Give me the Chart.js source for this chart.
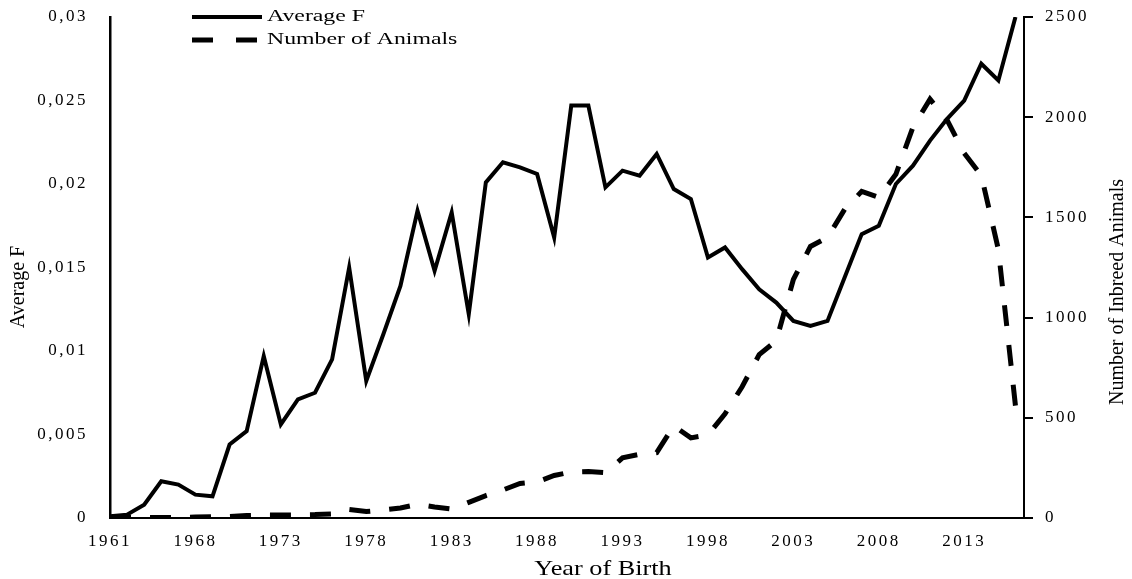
<!DOCTYPE html>
<html>
<head>
<meta charset="utf-8">
<script src="https://cdn.jsdelivr.net/npm/chart.js@4.4.1/dist/chart.umd.min.js"></script>
<style>
  html, body { margin: 0; padding: 0; background: #ffffff; }
  canvas { display: block; }
</style>
</head>
<body>
<canvas id="chart" width="1132" height="579"></canvas>
<script>
// Birth-year categories (one entry per plotted point)
const years = [
  1961, 1963, 1964, 1965, 1966,
  1968, 1969, 1970, 1971, 1972, 1973, 1974, 1975, 1976, 1977,
  1978, 1979, 1980, 1981, 1982, 1983, 1984, 1985, 1986, 1987,
  1988, 1989, 1990, 1991, 1992, 1993, 1994, 1995, 1996, 1997,
  1998, 1999, 2000, 2001, 2002, 2003, 2004, 2005, 2006, 2007,
  2008, 2009, 2010, 2011, 2012, 2013, 2014, 2015, 2016
];

// Average inbreeding coefficient per birth year (left axis)
const averageF = [
  0.0001, 0.0002, 0.0008, 0.0022, 0.0020,
  0.0014, 0.0013, 0.0044, 0.0052, 0.0097, 0.0056, 0.0071, 0.0075, 0.0095, 0.0150,
  0.0082, 0.0110, 0.0139, 0.0184, 0.0148, 0.0183, 0.0122, 0.0201, 0.0213, 0.0210,
  0.0206, 0.0168, 0.0247, 0.0247, 0.0198, 0.0208, 0.0205, 0.0218, 0.0197, 0.0191,
  0.0156, 0.0162, 0.0149, 0.0137, 0.0129, 0.0118, 0.0115, 0.0118, 0.0144, 0.0170,
  0.0175, 0.0200, 0.0211, 0.0226, 0.0239, 0.0250, 0.0272, 0.0262, 0.0300
];

// Number of inbred animals per birth year (right axis)
const inbredAnimals = [
  2, 3, 3, 2, 3,
  5, 7, 8, 12, 15, 15, 16, 17, 20, 42,
  32, 40, 50, 68, 55, 45, 78, 112, 140, 172,
  180, 212, 230, 232, 226, 300, 318, 326, 460, 400,
  415, 520, 655, 815, 885, 1190, 1355, 1400, 1540, 1630,
  1600, 1715, 1950, 2090, 1985, 1820, 1710, 1340, 560
];

const seriesLabels = ['Average F', 'Number of Animals'];
const xTitle = 'Year of Birth';
const yLeftTitle = 'Average F';
const yRightTitle = 'Number of Inbreed Animals';

const serif = '"Liberation Serif", "Times New Roman", serif';
const tickFont = { family: serif, size: 17 };

// Wider tracking for the axis numbers
const tracking = {
  id: 'tracking',
  beforeUpdate(chart) { chart.ctx.letterSpacing = '2.5px'; },
  beforeDraw(chart) { chart.ctx.letterSpacing = '2.5px'; }
};

// Axis titles and the legend drawn at fixed spots
const annotations = {
  id: 'annotations',
  afterDraw(chart) {
    const ctx = chart.ctx;
    ctx.save();
    ctx.letterSpacing = '0px';
    ctx.fillStyle = '#000';
    ctx.textBaseline = 'middle';

    // left axis title
    ctx.save();
    ctx.font = '20px ' + serif;
    ctx.textAlign = 'center';
    ctx.translate(19, 287);
    ctx.rotate(-Math.PI / 2);
    ctx.fillText(yLeftTitle, 0, 0);
    ctx.restore();

    // right axis title
    ctx.save();
    ctx.font = '20px ' + serif;
    ctx.textAlign = 'center';
    ctx.translate(1118, 292);
    ctx.rotate(-Math.PI / 2);
    ctx.fillText(yRightTitle, 0, 0);
    ctx.restore();

    // x axis title
    ctx.save();
    ctx.font = '21px ' + serif;
    ctx.textAlign = 'center';
    ctx.translate(603, 569);
    ctx.scale(1.25, 1);
    ctx.fillText(xTitle, 0, 0);
    ctx.restore();

    // legend
    const rows = [17, 40];
    chart.data.datasets.forEach((ds, i) => {
      const y = rows[i];
      ctx.save();
      ctx.strokeStyle = ds.borderColor;
      ctx.lineWidth = ds.borderWidth;
      ctx.lineCap = 'butt';
      ctx.setLineDash(ds.borderDash ? [21, 23] : []);
      ctx.beginPath();
      ctx.moveTo(192, y);
      ctx.lineTo(262, y);
      ctx.stroke();
      ctx.restore();

      ctx.save();
      ctx.font = '17px ' + serif;
      ctx.textAlign = 'left';
      ctx.translate(267, y);
      ctx.scale(1.4, 1);
      ctx.fillText(ds.label, 0, 0);
      ctx.restore();
    });
    ctx.restore();
  }
};

// Fixed axis band sizes so the plot area sits at a known spot
const fixWidth = (w) => (s) => { s.width = w; s.paddingTop = 0; s.paddingBottom = 0; };

new Chart(document.getElementById('chart'), {
  type: 'line',
  data: {
    datasets: [
      {
        label: seriesLabels[0],
        data: averageF.map((v, i) => ({ x: i, y: v })),
        yAxisID: 'yF',
        borderColor: '#000',
        borderWidth: 4,
        borderJoinStyle: 'miter',
        pointRadius: 0,
        tension: 0,
        fill: false
      },
      {
        label: seriesLabels[1],
        data: inbredAnimals.map((v, i) => ({ x: i, y: v })),
        yAxisID: 'yN',
        borderColor: '#000',
        borderWidth: 5,
        borderDash: [21, 19],
        borderJoinStyle: 'miter',
        pointRadius: 0,
        tension: 0,
        fill: false
      }
    ]
  },
  options: {
    responsive: false,
    animation: false,
    devicePixelRatio: 1,
    layout: { padding: { top: 17, left: 0, right: 0, bottom: 0 } },
    plugins: {
      legend: { display: false },
      tooltip: { enabled: false }
    },
    scales: {
      x: {
        type: 'linear',
        min: 0,
        max: 53.5,
        grid: { display: false, drawTicks: false },
        border: { display: true, color: '#000', width: 2 },
        ticks: {
          stepSize: 5,
          includeBounds: false,
          autoSkip: false,
          maxRotation: 0,
          padding: 13,
          color: '#000',
          font: tickFont,
          callback: (v) => years[v]
        },
        afterFit: (s) => { s.height = 61; s.paddingLeft = 0; s.paddingRight = 0; }
      },
      yF: {
        position: 'left',
        min: 0,
        max: 0.03,
        grid: { display: false, drawTicks: false },
        border: { display: true, color: '#000', width: 2.5 },
        ticks: {
          stepSize: 0.005,
          padding: 22,
          color: '#000',
          font: tickFont,
          callback: (v) => v === 0 ? '0' : String(+v.toFixed(3)).replace('.', ',')
        },
        afterFit: fixWidth(110)
      },
      yN: {
        position: 'right',
        min: 0,
        max: 2500,
        grid: { display: true, drawOnChartArea: false, drawTicks: true, tickLength: 9, color: '#000', lineWidth: 2 },
        border: { display: true, color: '#000', width: 2 },
        ticks: {
          stepSize: 500,
          padding: 12,
          color: '#000',
          font: tickFont,
          callback: (v) => String(v)
        },
        afterFit: fixWidth(108)
      }
    }
  },
  plugins: [tracking, annotations]
});
</script>
</body>
</html>
